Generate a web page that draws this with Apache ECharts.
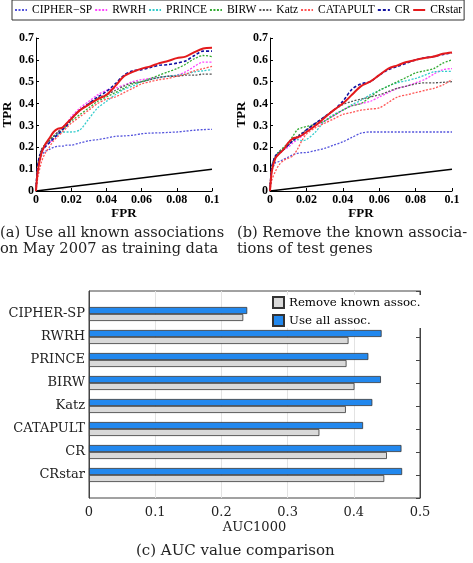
<!DOCTYPE html>
<html><head><meta charset="utf-8">
<script src="https://cdn.jsdelivr.net/npm/echarts@6/dist/echarts.min.js"></script>
<style>html,body{margin:0;padding:0;background:#fff}#c{width:473px;height:563px}</style>
</head><body><div id="c"></div>
<script>
var methods = ['CIPHER\u2212SP','RWRH','PRINCE','BIRW','Katz','CATAPULT','CR','CRstar'];
var fpr = [0,0.001,0.003,0.005,0.0075,0.01,0.0125,0.015,0.0175,0.02,0.025,0.03,0.035,0.04,0.045,0.05,0.055,0.06,0.065,0.07,0.075,0.08,0.085,0.09,0.095,0.1];
// (a) all known associations
var a_CIPHER = [0,0.10,0.16,0.18,0.19,0.20,0.205,0.205,0.21,0.21,0.22,0.23,0.235,0.242,0.25,0.252,0.255,0.262,0.265,0.266,0.268,0.27,0.274,0.278,0.281,0.282];
var a_RWRH = [0,0.09,0.17,0.20,0.22,0.24,0.27,0.29,0.31,0.34,0.38,0.41,0.44,0.46,0.47,0.485,0.50,0.51,0.515,0.52,0.525,0.53,0.545,0.57,0.59,0.59];
var a_PRINCE = [0,0.10,0.17,0.21,0.23,0.25,0.26,0.27,0.27,0.27,0.28,0.33,0.38,0.41,0.44,0.465,0.48,0.50,0.51,0.52,0.525,0.53,0.535,0.545,0.55,0.555];
var a_BIRW = [0,0.10,0.18,0.21,0.23,0.25,0.27,0.28,0.30,0.32,0.35,0.38,0.41,0.43,0.45,0.47,0.49,0.50,0.515,0.53,0.545,0.56,0.58,0.605,0.62,0.615];
var a_Katz = [0,0.12,0.19,0.21,0.23,0.25,0.27,0.29,0.31,0.33,0.37,0.40,0.425,0.44,0.46,0.48,0.495,0.50,0.51,0.52,0.525,0.525,0.53,0.53,0.535,0.535];
var a_CATAPULT = [0,0.06,0.13,0.17,0.20,0.23,0.25,0.27,0.29,0.31,0.34,0.37,0.40,0.42,0.43,0.45,0.47,0.49,0.50,0.51,0.515,0.525,0.535,0.55,0.56,0.57];
var a_CR = [0,0.12,0.18,0.20,0.22,0.24,0.26,0.28,0.30,0.33,0.37,0.40,0.43,0.455,0.49,0.53,0.55,0.555,0.565,0.575,0.578,0.585,0.595,0.62,0.64,0.64];
var a_CRstar = [0,0.09,0.17,0.21,0.24,0.27,0.285,0.29,0.31,0.33,0.37,0.395,0.42,0.44,0.48,0.525,0.545,0.56,0.57,0.585,0.595,0.608,0.615,0.635,0.652,0.655];
// (b) known associations of test genes removed
var b_CIPHER = [0,0.09,0.13,0.135,0.145,0.155,0.165,0.172,0.175,0.176,0.185,0.195,0.21,0.225,0.245,0.265,0.27,0.27,0.27,0.27,0.27,0.27,0.27,0.27,0.27,0.27];
var b_RWRH = [0,0.10,0.16,0.18,0.19,0.20,0.22,0.235,0.25,0.27,0.30,0.32,0.345,0.37,0.39,0.40,0.41,0.43,0.45,0.47,0.48,0.495,0.51,0.535,0.555,0.56];
var b_PRINCE = [0,0.10,0.16,0.18,0.195,0.21,0.23,0.235,0.23,0.235,0.27,0.32,0.35,0.37,0.395,0.415,0.44,0.46,0.48,0.495,0.505,0.515,0.53,0.545,0.547,0.547];
var b_BIRW = [0,0.10,0.16,0.18,0.20,0.22,0.25,0.28,0.29,0.295,0.305,0.32,0.345,0.37,0.39,0.40,0.43,0.46,0.48,0.50,0.52,0.54,0.55,0.56,0.585,0.60];
var b_Katz = [0,0.11,0.16,0.17,0.19,0.21,0.23,0.25,0.265,0.28,0.31,0.34,0.37,0.395,0.41,0.42,0.43,0.44,0.455,0.47,0.48,0.49,0.495,0.495,0.497,0.50];
var b_CATAPULT = [0,0.05,0.09,0.12,0.14,0.15,0.16,0.19,0.23,0.26,0.29,0.31,0.33,0.35,0.36,0.37,0.375,0.38,0.405,0.43,0.44,0.45,0.46,0.47,0.485,0.51];
var b_CR = [0,0.11,0.16,0.175,0.19,0.21,0.23,0.245,0.26,0.28,0.31,0.34,0.37,0.41,0.465,0.49,0.50,0.53,0.555,0.57,0.585,0.60,0.61,0.615,0.625,0.632];
var b_CRstar = [0,0.09,0.15,0.17,0.19,0.22,0.24,0.245,0.255,0.27,0.30,0.335,0.37,0.40,0.44,0.48,0.50,0.53,0.56,0.575,0.59,0.60,0.608,0.615,0.628,0.634];
var randomX = [0, 0.1];
var randomY = [0, 0.1];
// (c) AUC1000
var barCats = ['CIPHER-SP','RWRH','PRINCE','BIRW','Katz','CATAPULT','CR','CRstar'];
var aucUseAll = [0.239,0.442,0.422,0.441,0.428,0.414,0.472,0.473];
var aucRemove = [0.233,0.392,0.389,0.401,0.388,0.348,0.450,0.446];

var styles = [
  {color:'#5555dd', type:[2,1.5], width:1.3},
  {color:'#ff44ff', type:[2,1.5], width:1.3},
  {color:'#33cccc', type:[2,1.5], width:1.3},
  {color:'#33aa33', type:[2,1.5], width:1.3},
  {color:'#555555', type:[2,1.5], width:1.3},
  {color:'#ff5555', type:[2,1.5], width:1.3},
  {color:'#1010a0', type:[3,2], width:1.6},
  {color:'#e41a1c', type:'solid', width:2}
];
var aData = [a_CIPHER,a_RWRH,a_PRINCE,a_BIRW,a_Katz,a_CATAPULT,a_CR,a_CRstar];
var bData = [b_CIPHER,b_RWRH,b_PRINCE,b_BIRW,b_Katz,b_CATAPULT,b_CR,b_CRstar];

function pairs(xs, ys){ return xs.map(function(x,i){return [x, ys[i]];}); }

var serif = 'Liberation Serif';
var cm = 'DejaVu Serif';
var series = [];
[aData, bData].forEach(function(set, gi){
  set.forEach(function(ys, i){
    series.push({type:'line', name:methods[i], xAxisIndex:gi, yAxisIndex:gi, data:pairs(fpr, ys),
      symbol:'none', smooth:0.3, lineStyle:styles[i], itemStyle:{color:styles[i].color}, z: 2 + i});
  });
  series.push({type:'line', name:'random', xAxisIndex:gi, yAxisIndex:gi, data:pairs(randomX, randomY),
    symbol:'none', lineStyle:{color:'#000', width:1.5}, itemStyle:{color:'#000'}, silent:true});
});
series.push({type:'bar', name:'Use all assoc.', xAxisIndex:2, yAxisIndex:2, data:[null].concat(aucUseAll, [null]),
  barWidth:7, barGap:'0%', itemStyle:{color:'#2288ee', borderColor:'#333', borderWidth:0.8}});
series.push({type:'bar', name:'Remove known assoc.', xAxisIndex:2, yAxisIndex:2, data:[null].concat(aucRemove, [null]),
  barWidth:7, barGap:'0%', itemStyle:{color:'#d9d9d9', borderColor:'#333', borderWidth:0.8}});

function rocX(gi){
  return {type:'value', gridIndex:gi, min:0, max:0.1, interval:0.02, name:'FPR', nameLocation:'middle', nameGap:10,
    nameTextStyle:{fontFamily:serif, fontWeight:'bold', fontSize:13, color:'#000'},
    axisLine:{lineStyle:{color:'#000'}}, axisTick:{inside:true, length:3, lineStyle:{color:'#000'}},
    axisLabel:{fontFamily:serif, fontWeight:'bold', fontSize:12, color:'#000', margin:3}, splitLine:{show:false}};
}
function rocY(gi){
  return {type:'value', gridIndex:gi, min:0, max:0.7, interval:0.1, name:'TPR', nameLocation:'middle', nameGap:22, nameRotate:90,
    nameTextStyle:{fontFamily:serif, fontWeight:'bold', fontSize:13, color:'#000'},
    axisLine:{show:true, lineStyle:{color:'#000'}}, axisTick:{show:true, inside:true, length:3, lineStyle:{color:'#000'}},
    axisLabel:{fontFamily:serif, fontWeight:'bold', fontSize:12, color:'#000', margin:2}, splitLine:{show:false}};
}
var padCats = [''].concat(barCats, ['']);
var option = {
  animation:false,
  backgroundColor:'#fff',
  legend:[{
    data:methods, left:12, right:2, top:0, padding:[4,2,4,2], itemGap:2, itemWidth:12, itemHeight:1,
    itemStyle:{opacity:0}, borderColor:'#333', borderWidth:1,
    textStyle:{fontFamily:serif, fontSize:11.5, color:'#000'}
  },{
    data:['Remove known assoc.','Use all assoc.'], orient:'vertical', left:270, top:295, padding:[1,2,1,2], itemGap:5,
    itemWidth:11, itemHeight:11, icon:'rect', backgroundColor:'#fff',
    textStyle:{fontFamily:cm, fontSize:11.8, color:'#000'}
  }],
  grid:[
    {left:30, top:38, width:182, height:153},
    {left:270, top:38, width:182, height:153},
    {left:89, top:291, width:331, height:207, show:true, borderColor:'#444', borderWidth:1}
  ],
  xAxis:[rocX(0), rocX(1), {
    type:'value', gridIndex:2, min:0, max:0.5, interval:0.1, name:'AUC1000', nameLocation:'middle', nameGap:23,
    nameTextStyle:{fontFamily:cm, fontSize:13, color:'#222'},
    axisLine:{lineStyle:{color:'#444'}}, axisTick:{show:false},
    axisLabel:{fontFamily:cm, fontSize:13, color:'#222', margin:8},
    splitLine:{show:true, lineStyle:{color:'#e3e3e3', width:1}}
  }],
  yAxis:[rocY(0), rocY(1), {
    type:'category', gridIndex:2, data:padCats, inverse:true, boundaryGap:false,
    axisLine:{lineStyle:{color:'#444'}}, axisTick:{show:false},
    axisLabel:{fontFamily:cm, fontSize:13, color:'#222', margin:4}
  },{
    type:'category', gridIndex:2, data:padCats, inverse:true, boundaryGap:false, position:'right',
    axisLine:{show:true, lineStyle:{color:'#444'}}, axisTick:{show:true, inside:true, length:4, lineStyle:{color:'#444'}},
    axisLabel:{show:false}
  }],
  series:series,
  graphic:[
    {type:'text', left:0, top:226, style:{text:'(a) Use all known associations', font:'14.6px "DejaVu Serif"', fill:'#222'}},
    {type:'text', left:0, top:242, style:{text:'on May 2007 as training data', font:'14.6px "DejaVu Serif"', fill:'#222'}},
    {type:'text', left:237, top:226, style:{text:'(b) Remove the known associa-', font:'14.6px "DejaVu Serif"', fill:'#222'}},
    {type:'text', left:237, top:242, style:{text:'tions of test genes', font:'14.6px "DejaVu Serif"', fill:'#222'}},
    {type:'text', left:136, top:544, style:{text:'(c) AUC value comparison', font:'15px "DejaVu Serif"', fill:'#222'}}
  ]
};
var chart = echarts.init(document.getElementById('c'), null, {renderer:'canvas'});
chart.setOption(option);
</script></body></html>
